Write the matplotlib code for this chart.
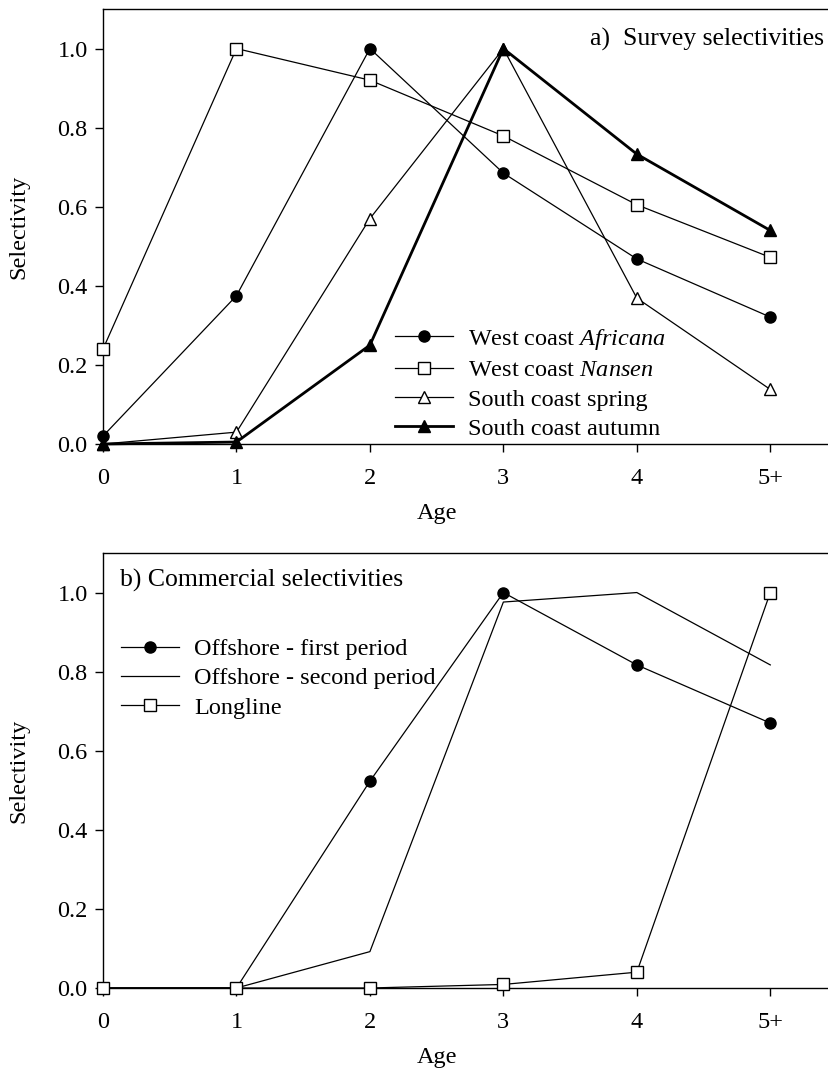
import matplotlib
matplotlib.use("Agg")
import matplotlib.pyplot as plt

plt.rcParams['font.family'] = ['Liberation Serif', 'DejaVu Serif']
plt.rcParams['mathtext.fontset'] = 'custom'
plt.rcParams['mathtext.rm'] = 'Liberation Serif'
plt.rcParams['mathtext.it'] = 'Liberation Serif:italic'

ages = [0, 1, 2, 3, 4, 5]
age_labels = ['0', '1', '2', '3', '4', '5+']

# survey selectivities
africana = [0.02, 0.375, 1.0, 0.685, 0.468, 0.321]
nansen = [0.24, 1.0, 0.92, 0.779, 0.605, 0.472]
spring = [0.0, 0.03, 0.57, 1.0, 0.369, 0.138]
autumn = [0.0, 0.005, 0.25, 1.0, 0.733, 0.54]

# commercial selectivities
offshore1 = [0.0, 0.0, 0.523, 1.0, 0.817, 0.67]
offshore2 = [0.0, 0.0, 0.092, 0.976, 1.0, 0.817]
longline = [0.0, 0.0, 0.0, 0.009, 0.04, 1.0]

W, H = 829, 1070
fig = plt.figure(figsize=(W / 100, H / 100), dpi=100)

def px_box(left, top, right, bottom):
    return [left / W, 1 - bottom / H, (right - left) / W, (bottom - top) / H]

ax1 = fig.add_axes(px_box(103, 9, 829, 444))
ax2 = fig.add_axes(px_box(103, 553, 829, 988))

fs = 17.5
for ax in (ax1, ax2):
    ax.set_xlim(0, 5.44)
    ax.set_ylim(0, 1.1)
    ax.set_xticks(ages)
    ax.set_xticklabels(age_labels)
    ax.set_yticks([0, 0.2, 0.4, 0.6, 0.8, 1.0])
    ax.set_yticklabels(['0.0', '0.2', '0.4', '0.6', '0.8', '1.0'])
    ax.spines['right'].set_visible(False)
    for s in ('left', 'bottom', 'top'):
        ax.spines[s].set_linewidth(1.0)
    ax.tick_params(direction='out', length=6, width=1.0, labelsize=fs)
    ax.tick_params(axis='x', pad=11)
    ax.tick_params(axis='y', pad=5)
    ax.set_xlabel('Age', fontsize=fs)
    ax.set_ylabel('Selectivity', fontsize=fs)
    ax.xaxis.set_label_coords(2.5 / 5.44, -0.135)
    ax.yaxis.set_label_coords(-0.102, 0.5)

lw = 0.9
ax1.plot(ages, africana, color='k', lw=lw, marker='o', ms=8, mfc='k', mec='k',
         label='West coast $\\it{Africana}$', clip_on=False, zorder=3)
ax1.plot(ages, nansen, color='k', lw=lw, marker='s', ms=8, mfc='white', mec='k', mew=1,
         label='West coast $\\it{Nansen}$', clip_on=False, zorder=3)
ax1.plot(ages, spring, color='k', lw=lw, marker='^', ms=9, mfc='white', mec='k', mew=1,
         label='South coast spring', clip_on=False, zorder=3)
ax1.plot(ages, autumn, color='k', lw=2.0, marker='^', ms=9, mfc='k', mec='k',
         label='South coast autumn', clip_on=False, zorder=4)
ax1.text(0.993, 1 - 30 / 435, 'a)  Survey selectivities', transform=ax1.transAxes,
         ha='right', va='center', fontsize=18.5)
ax1.legend(loc='upper left', bbox_to_anchor=(395 / W, 1 - 327 / H),
           bbox_transform=fig.transFigure, frameon=False, fontsize=fs,
           handlelength=2.4, handletextpad=0.6, labelspacing=0.3,
           borderaxespad=0, borderpad=0)

ax2.plot(ages, offshore1, color='k', lw=lw, marker='o', ms=8, mfc='k', mec='k',
         label='Offshore - first period', clip_on=False, zorder=3)
ax2.plot(ages, offshore2, color='k', lw=lw,
         label='Offshore - second period', clip_on=False, zorder=3)
ax2.plot(ages, longline, color='k', lw=lw, marker='s', ms=8, mfc='white', mec='k', mew=1,
         label='Longline', clip_on=False, zorder=3)
ax2.text(17 / 726, 1 - 27 / 435, 'b) Commercial selectivities', transform=ax2.transAxes,
         ha='left', va='center', fontsize=18.5)
ax2.legend(loc='upper left', bbox_to_anchor=(121 / W, 1 - 638 / H),
           bbox_transform=fig.transFigure, frameon=False, fontsize=fs,
           handlelength=2.4, handletextpad=0.6, labelspacing=0.3,
           borderaxespad=0, borderpad=0)

fig.savefig('out.png', dpi=100)
